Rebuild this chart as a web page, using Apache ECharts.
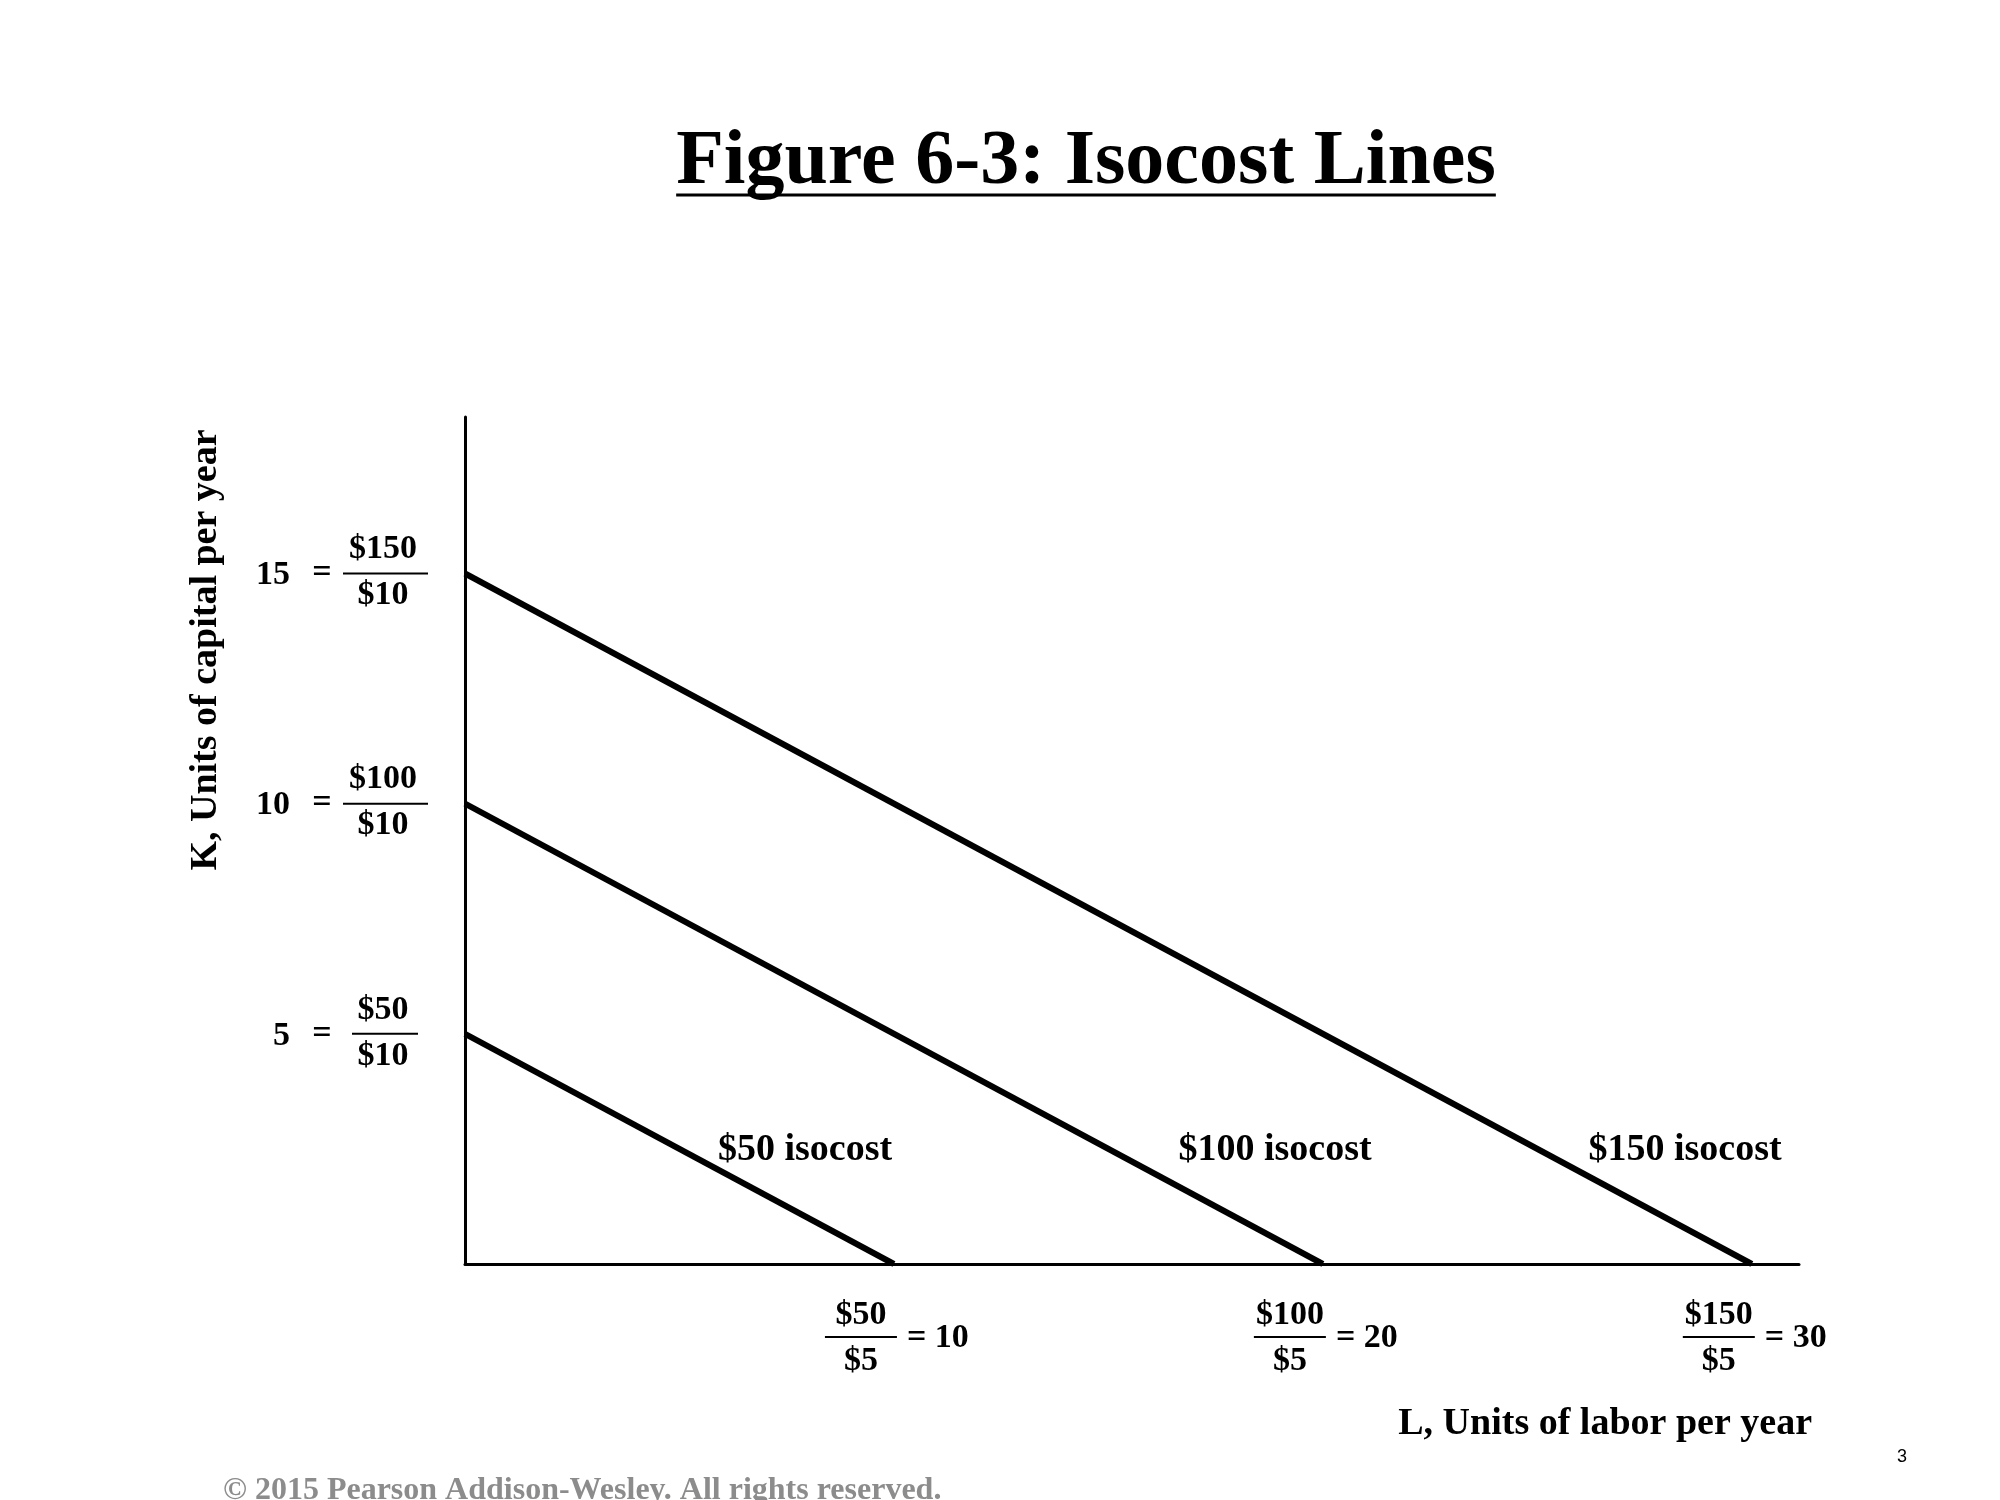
<!DOCTYPE html>
<html>
<head>
<meta charset="utf-8">
<script src="https://cdn.jsdelivr.net/npm/echarts@6/dist/echarts.min.js"></script>
<style>html,body{margin:0;background:#fff}#main{width:2000px;height:1500px}</style>
</head>
<body>
<div id="main"></div>
<script>
var costs = [50, 100, 150];
var wage = 5;
var rent = 10;
var laborIntercepts = [10, 20, 30];
var capitalIntercepts = [5, 10, 15];
var seriesNames = ['$50 isocost', '$100 isocost', '$150 isocost'];

var serif = 'Liberation Serif';
var myChart = echarts.init(document.getElementById('main'));

myChart.setOption({
    animation: false,
    grid: { left: 465, right: 201, top: 417, bottom: 236 },
    xAxis: {
        type: 'value', min: 0, max: 31.1,
        axisLine: { lineStyle: { color: '#000', width: 3 } },
        axisTick: { show: false }, axisLabel: { show: false }, splitLine: { show: false }
    },
    yAxis: {
        type: 'value', min: 0, max: 18.4,
        axisLine: { show: true, lineStyle: { color: '#000', width: 3 } },
        axisTick: { show: false }, axisLabel: { show: false }, splitLine: { show: false }
    },
    series: costs.map(function (c, i) {
        return {
            name: seriesNames[i], type: 'line', symbol: 'none',
            lineStyle: { color: '#000', width: 6 },
            data: [[0, capitalIntercepts[i]], [laborIntercepts[i], 0]]
        };
    })
});

var g = [];
function txt(x, y, s, size, align, extra) {
    g.push(Object.assign({
        type: 'text', x: x, y: y,
        style: { text: s, font: 'bold ' + size + 'px "' + serif + '"', fill: '#000', align: align || 'center', verticalAlign: 'middle' }
    }, extra || {}));
}
function bar(x1, x2, y) {
    g.push({ type: 'line', shape: { x1: x1, y1: y, x2: x2, y2: y }, style: { stroke: '#000', lineWidth: 2 } });
}

// title with underline matched to its width
var titleText = 'Figure 6-3: Isocost Lines';
var titleFont = 'bold 78px "' + serif + '"';
var ctx = document.createElement('canvas').getContext('2d');
ctx.font = titleFont;
var tw = ctx.measureText(titleText).width;
g.push({ type: 'text', x: 1086, y: 163, style: { text: titleText, font: titleFont, fill: '#000', align: 'center', verticalAlign: 'middle' } });
g.push({ type: 'line', shape: { x1: 1086 - tw / 2, y1: 195, x2: 1086 + tw / 2, y2: 195 }, style: { stroke: '#000', lineWidth: 3 } });

capitalIntercepts.forEach(function (k, i) {
    var y = myChart.convertToPixel({ yAxisIndex: 0 }, k);
    txt(290, y + 2, String(k), 34, 'right');
    txt(322, y, '=', 34);
    txt(383, y - 24, '$' + costs[i], 34);
    bar(i === 0 ? 352 : 343, i === 0 ? 418 : 428, y);
    txt(383, y + 22, '$' + rent, 34);
});

laborIntercepts.forEach(function (l, i) {
    var x = myChart.convertToPixel({ xAxisIndex: 0 }, l);
    var cx = x - 33;
    txt(cx, 1315, '$' + costs[i], 34);
    bar(cx - 36, cx + 36, 1337);
    txt(cx, 1361, '$' + wage, 34);
    txt(cx + 46, 1338, '= ' + l, 34, 'left');
});

var labelX = [805, 1275, 1685];
seriesNames.forEach(function (n, i) { txt(labelX[i], 1150, n, 38); });

txt(206, 650, 'K, Units of capital per year', 38, 'center', { rotation: Math.PI / 2 });
txt(1812, 1424, 'L, Units of labor per year', 38, 'right');
g.push({ type: 'text', x: 223, y: 1491, style: { text: '\u00a9 2015 Pearson Addison-Wesley. All rights reserved.', font: 'bold 32px "' + serif + '"', fill: '#8c8c8c', verticalAlign: 'middle' } });
g.push({ type: 'text', x: 1902, y: 1457, style: { text: '3', font: '18px "Liberation Sans"', fill: '#000', align: 'center', verticalAlign: 'middle' } });

myChart.setOption({ graphic: g });
</script>
</body>
</html>
